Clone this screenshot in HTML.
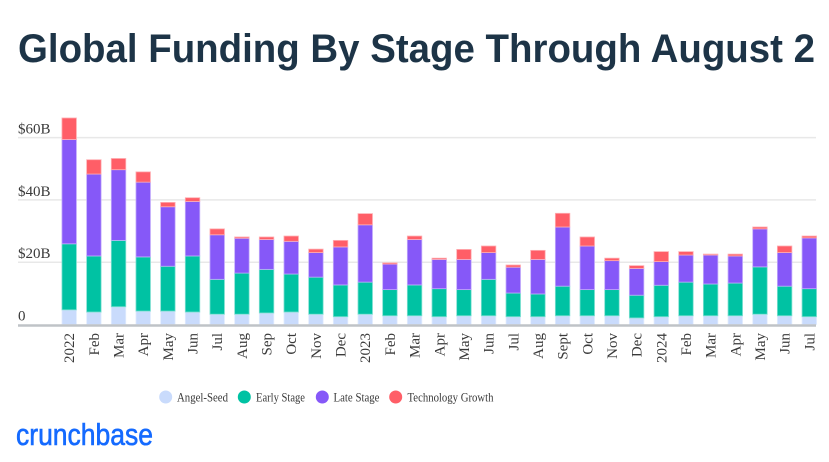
<!DOCTYPE html>
<html><head><meta charset="utf-8"><style>
html,body{margin:0;padding:0;background:#fff;width:829px;height:462px;overflow:hidden}
svg{display:block}
</style></head><body>
<svg id="chart" width="829" height="462" xmlns="http://www.w3.org/2000/svg">
<text x="18" y="62" font-family="Liberation Sans, sans-serif" font-weight="bold" font-size="40" fill="#1d3447" textLength="797" lengthAdjust="spacingAndGlyphs">Global Funding By Stage Through August 2</text>
<g id="grid"></g>
<g id="bars"></g>
<line x1="18" x2="816" y1="325.5" y2="325.5" stroke="#bfc3c7" stroke-width="2.5"/>
<g id="xlabels"></g>
<g font-family="Liberation Serif, serif" font-size="13" fill="#3a3a3a">
<g><circle cx="165.7" cy="397" r="6.5" fill="#c9dbfc"/><text x="177" y="401.5" textLength="51" lengthAdjust="spacingAndGlyphs">Angel-Seed</text></g>
<g><circle cx="244.3" cy="397" r="6.5" fill="#00c2a3"/><text x="256" y="401.5" textLength="49" lengthAdjust="spacingAndGlyphs">Early Stage</text></g>
<g><circle cx="322.3" cy="397" r="6.5" fill="#8658f8"/><text x="333.5" y="401.5" textLength="46" lengthAdjust="spacingAndGlyphs">Late Stage</text></g>
<g><circle cx="395.7" cy="397" r="6.5" fill="#ff5e67"/><text x="407.5" y="401.5" textLength="86" lengthAdjust="spacingAndGlyphs">Technology Growth</text></g>
</g>
<text x="16" y="445" font-family="Liberation Sans, sans-serif" font-size="31" fill="#146aff" stroke="#146aff" stroke-width="0.6" textLength="137" lengthAdjust="spacingAndGlyphs">crunchbase</text>
</svg>
<script>
const categories=["2022","Feb","Mar","Apr","May","Jun","Jul","Aug","Sep","Oct","Nov","Dec","2023","Feb","Mar","Apr","May","Jun","Jul","Aug","Sept","Oct","Nov","Dec","2024","Feb","Mar","Apr","May","Jun","Jul"];
const angelSeed=[4.7,4.0,5.7,4.3,4.3,4.0,3.3,3.3,3.7,4.0,3.3,2.5,3.3,2.8,2.8,2.5,2.8,2.8,2.5,2.5,2.8,2.8,2.8,2.1,2.5,2.8,2.8,2.8,3.3,2.8,2.5];
const earlyStage=[21.2,18.0,21.3,17.4,14.4,18.0,11.2,13.2,14.0,12.2,11.9,10.2,10.3,8.4,9.9,9.0,8.4,11.7,7.6,7.3,9.5,8.4,8.4,7.3,10.1,10.8,10.2,10.5,15.2,9.5,9.0];
const lateStage=[33.5,26.3,22.7,24.0,19.1,17.5,14.3,11.2,9.6,10.5,7.9,12.2,18.4,8.2,14.6,9.4,9.7,8.6,8.3,11.1,19.0,14.0,9.3,8.6,7.6,8.7,9.3,8.7,12.2,10.8,16.3];
const techGrowth=[6.9,4.6,3.6,3.3,1.4,1.2,1.9,0.4,0.8,1.7,1.1,2.1,3.6,0.4,1.1,0.4,3.2,2.1,0.7,2.9,4.4,2.9,0.8,0.9,3.2,1.1,0.3,0.6,0.6,2.1,0.6];
const yTicks=[0,20,40,60];
const yTickLabels=["0","$20B","$40B","$60B"];
const NS="http://www.w3.org/2000/svg";
const y0=324.5, pxPerB=3.115, x0=69.2, pitch=24.67, bw=14.5;
function yScale(v){return y0-v*pxPerB;}
function xScale(i){return x0+i*pitch;}
const grid=document.getElementById('grid');
yTicks.forEach((t,i)=>{
  if(t>0){const l=document.createElementNS(NS,'line');
  
  
  l.setAttribute('x1',18);l.setAttribute('x2',816);l.setAttribute('y1',yScale(t));l.setAttribute('y2',yScale(t));
  l.setAttribute('stroke','#e8e8e8');l.setAttribute('stroke-width','1.5');grid.appendChild(l);}
  const tx=document.createElementNS(NS,'text');
  
  
  tx.setAttribute('x',18);tx.setAttribute('y',yScale(t)-4);
  tx.setAttribute('font-family','Liberation Serif, serif');tx.setAttribute('font-size','15');tx.setAttribute('fill','#3a3a3a');
  tx.textContent=yTickLabels[i];grid.appendChild(tx);
});
const series=[[angelSeed,'#c9dbfc','#e2ecfe','angel-seed'],[earlyStage,'#00c2a3','#7fe0d1','early-stage'],[lateStage,'#8658f8','#c3acfb','late-stage'],[techGrowth,'#ff5e67','#ffafb3','technology-growth']];
const bars=document.getElementById('bars'),xl=document.getElementById('xlabels');
categories.forEach((c,i)=>{
  let base=0;
  series.forEach(s=>{
    const v=s[0][i];
    const r=document.createElementNS(NS,'rect');
    
    
    r.setAttribute('x',xScale(i)-bw/2);r.setAttribute('width',bw);
    r.setAttribute('y',yScale(base+v));r.setAttribute('height',Math.max(0,yScale(base)-yScale(base+v)));
    r.setAttribute('fill',s[1]);r.setAttribute('stroke',s[2]);r.setAttribute('stroke-width','0.8');
    bars.appendChild(r);base+=v;
  });
  const t=document.createElementNS(NS,'text');
  
  
  t.setAttribute('transform','translate('+(xScale(i)+5)+',333) rotate(-90)');
  t.setAttribute('text-anchor','end');
  t.setAttribute('font-family','Liberation Serif, serif');t.setAttribute('font-size','15');t.setAttribute('fill','#3a3a3a');
  t.textContent=c;xl.appendChild(t);
});
</script>
</body></html>
